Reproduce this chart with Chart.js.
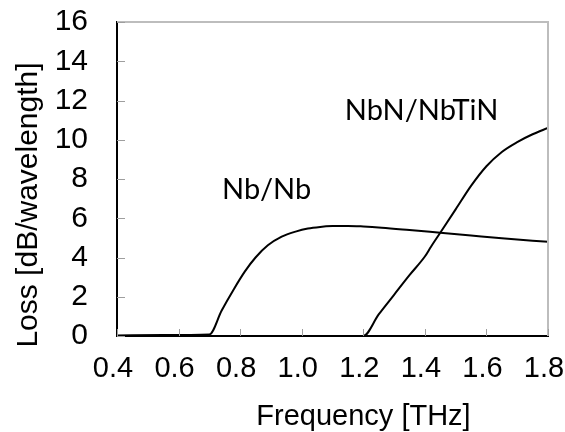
<!DOCTYPE html>
<html>
<head>
<meta charset="utf-8">
<script src="https://cdn.jsdelivr.net/npm/chart.js@4.4.1/dist/chart.umd.min.js"></script>
<style>
  html, body { margin: 0; padding: 0; background: #fff; }
  #wrap { width: 565px; height: 432px; }
</style>
</head>
<body>
<div id="wrap"><canvas id="chart" width="565" height="432"></canvas></div>
<script>
// Nb/Nb line
const nbFreq = [0.4, 0.55, 0.7, 0.74, 0.78, 0.815, 0.85, 0.89, 0.935, 0.98, 1.02, 1.06, 1.1, 1.15, 1.2, 1.26, 1.35, 1.45, 1.55, 1.65, 1.8];
const nbLoss = [0.03, 0.05, 0.08, 1.3, 2.4, 3.28, 4.0, 4.62, 5.06, 5.32, 5.48, 5.56, 5.6, 5.61, 5.58, 5.52, 5.4, 5.26, 5.12, 4.98, 4.8];

// NbN/NbTiN line
const nbnFreq = [0.4, 1.2, 1.25, 1.3, 1.35, 1.4, 1.42, 1.45, 1.5, 1.55, 1.6, 1.65, 1.7, 1.75, 1.8];
const nbnLoss = [0, 0, 1.1, 2.1, 3.1, 4.05, 4.55, 5.26, 6.45, 7.65, 8.65, 9.38, 9.88, 10.28, 10.6];

// curve labels: [text, x, y]
const curveLabels = [
  ['Nb/Nb', 0.741, 7.44],
  ['NbN/NbTiN', 1.14, 11.46]
];

const xTitle = 'Frequency [THz]';
const yTitle = 'Loss [dB/wavelength]';

const toPoints = (xs, ys) => xs.map((x, i) => ({ x, y: ys[i] }));

const noPad = s => {
  s.paddingLeft = 0;
  s.paddingRight = 0;
  s.paddingTop = 0;
  s.paddingBottom = 0;
};

const frame = {
  id: 'frame',
  afterDatasetsDraw(chart) {
    const { ctx, chartArea: a, scales } = chart;
    ctx.save();
    // top and right border
    ctx.strokeStyle = '#bdbdbd';
    ctx.lineWidth = 2;
    ctx.beginPath();
    ctx.moveTo(a.left, a.top);
    ctx.lineTo(a.right, a.top);
    ctx.lineTo(a.right, a.bottom);
    ctx.stroke();
    // inner tick marks
    ctx.strokeStyle = '#9e9e9e';
    ctx.lineWidth = 1;
    scales.x.ticks.forEach(t => {
      const px = Math.round(scales.x.getPixelForValue(t.value)) + 0.5;
      ctx.beginPath();
      ctx.moveTo(px, a.bottom);
      ctx.lineTo(px, a.bottom - 7);
      ctx.stroke();
    });
    scales.y.ticks.forEach(t => {
      const py = Math.round(scales.y.getPixelForValue(t.value)) + 0.5;
      ctx.beginPath();
      ctx.moveTo(a.left, py);
      ctx.lineTo(a.left + 8, py);
      ctx.stroke();
    });
    // curve labels
    ctx.fillStyle = '#000';
    ctx.font = '29px Lato';
    ctx.textAlign = 'left';
    ctx.textBaseline = 'middle';
    curveLabels.forEach(([txt, x, y]) => {
      ctx.fillText(txt, scales.x.getPixelForValue(x), scales.y.getPixelForValue(y));
    });
    // axis titles
    ctx.font = '29px "Liberation Sans"';
    ctx.textAlign = 'center';
    ctx.textBaseline = 'alphabetic';
    ctx.fillText(xTitle, (a.left + a.right) / 2 + 31, a.bottom + 89);
    ctx.translate(37, (a.top + a.bottom) / 2 + 26);
    ctx.rotate(-Math.PI / 2);
    ctx.font = '30px "Liberation Sans"';
    ctx.fillText(yTitle, 0, 0);
    ctx.restore();
  }
};

const lineStyle = {
  borderColor: '#000',
  borderWidth: 2,
  pointRadius: 0,
  fill: false,
  showLine: true,
  cubicInterpolationMode: 'monotone'
};

new Chart(document.getElementById('chart').getContext('2d'), {
  type: 'scatter',
  data: {
    datasets: [
      { label: 'Nb/Nb', data: toPoints(nbFreq, nbLoss), ...lineStyle },
      { label: 'NbN/NbTiN', data: toPoints(nbnFreq, nbnLoss), ...lineStyle }
    ]
  },
  options: {
    responsive: false,
    animation: false,
    layout: { padding: { left: 0, top: 22, right: 17, bottom: 0 } },
    plugins: { legend: { display: false }, tooltip: { enabled: false } },
    scales: {
      x: {
        type: 'linear',
        min: 0.4,
        max: 1.8,
        afterFit: s => { s.height = 96; noPad(s); },
        grid: { display: false, drawTicks: false },
        border: { color: '#000', width: 2 },
        ticks: {
          stepSize: 0.2,
          autoSkip: false,
          maxRotation: 0,
          padding: 16,
          labelOffset: -4,
          color: '#000',
          font: { family: 'Liberation Sans', size: 29 },
          callback: v => v.toFixed(1)
        }
      },
      y: {
        min: 0,
        max: 16,
        afterFit: s => { s.width = 117; noPad(s); },
        grid: { display: false, drawTicks: false },
        border: { color: '#000', width: 2 },
        ticks: {
          stepSize: 2,
          autoSkip: false,
          padding: 29,
          color: '#000',
          font: { family: 'Liberation Sans', size: 30 }
        }
      }
    }
  },
  plugins: [frame]
});
</script>
</body>
</html>
